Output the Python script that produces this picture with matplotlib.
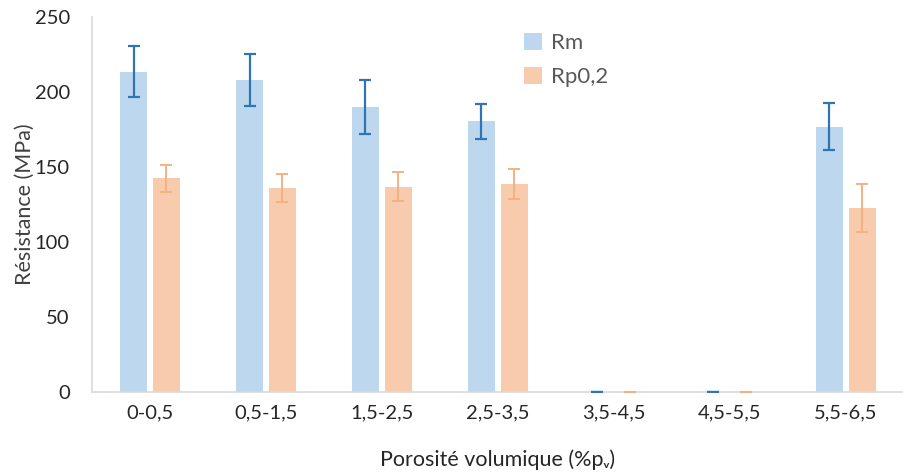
import numpy as np
import matplotlib.pyplot as plt

# data
categories = ['0-0,5', '0,5-1,5', '1,5-2,5', '2,5-3,5', '3,5-4,5', '4,5-5,5', '5,5-6,5']
rm = [213.5, 208, 190, 180.5, 0, 0, 177]
rm_err = [17, 17.5, 18, 11.5, 0, 0, 15.5]
rp = [142.5, 136, 137, 138.5, 0, 0, 122.5]
rp_err = [9, 9.5, 9.5, 10, 0, 0, 16]

plt.rcParams['font.family'] = ['Lato', 'DejaVu Sans']

fig = plt.figure(figsize=(9.04, 4.73), dpi=100)
ax = fig.add_axes([0.1018, 0.1712, 0.898, 0.7928])

x = np.arange(len(categories))
w = 0.235
off = 0.142

ax.bar(x - off, rm, w, color='#BDD7EE', label='Rm', zorder=2)
ax.bar(x + off, rp, w, color='#F8CBAD', label='Rp0,2', zorder=2)
ax.errorbar(x - off, rm, yerr=rm_err, fmt='none', ecolor='#2E75B6',
            elinewidth=1.6, capsize=4.3, capthick=1.6, zorder=3)
ax.errorbar(x + off, rp, yerr=rp_err, fmt='none', ecolor='#F4B183',
            elinewidth=1.4, capsize=4.3, capthick=1.4, zorder=3)

ax.set_xlim(-0.5, 6.5)
ax.set_ylim(0, 250)
ax.set_yticks(range(0, 251, 50))
ax.set_xticks(x)
ax.set_xticklabels(categories)
ax.tick_params(axis='both', length=0, labelsize=14.5, colors='#262626')
ax.tick_params(axis='y', pad=16)
ax.tick_params(axis='x', pad=9)

for s in ['top', 'right']:
    ax.spines[s].set_visible(False)
for s in ['left', 'bottom']:
    ax.spines[s].set_color('#D9D9D9')
    ax.spines[s].set_linewidth(1.2)

ax.set_ylabel('Résistance (MPa)', fontsize=15.5, color='#404040', labelpad=0)
ax.set_xlabel('Porosité volumique (%pᵥ)', fontsize=15.5, color='#262626', labelpad=20)

leg = ax.legend(loc='upper left', bbox_to_anchor=(0.508, 1.012), frameon=False,
                fontsize=16, labelspacing=0.65, handlelength=0.8, handleheight=0.8,
                handletextpad=0.4)
for t in leg.get_texts():
    t.set_color('#595959')

fig.savefig('out.png', dpi=100)
